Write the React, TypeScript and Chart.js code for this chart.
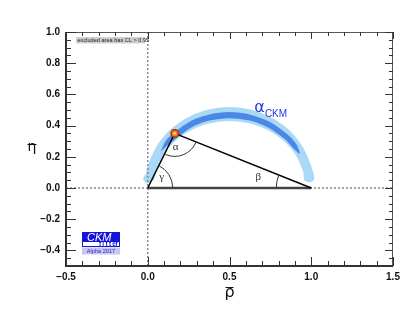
import React, { useEffect, useRef } from 'react';
import { Chart, registerables } from 'chart.js';
Chart.register(...registerables);

// Axis ranges and ticks
const xMin = -0.5, xMax = 1.5, yMin = -0.5, yMax = 1.0;
const xTickValues = [-0.5, 0, 0.5, 1.0, 1.5];
const yTickValues = [-0.4, -0.2, 0, 0.2, 0.4, 0.6, 0.8, 1.0];
const xMinorStep = 0.1;
const yMinorStep = 0.05;

// Unitarity triangle vertices (rho-bar, eta-bar): origin, apex, (1,0)
const triangleRho = [0, 0.165, 1];
const triangleEta = [0, 0.35, 0];

// alpha constraint, 95% CL band: outer edge (left -> right)
const lightOuterRho = [-0.017, -0.002, 0.050, 0.132, 0.240, 0.365, 0.500, 0.635, 0.760, 0.868, 0.950, 1.002, 1.017];
const lightOuterEta = [0.054, 0.135, 0.260, 0.368, 0.450, 0.502, 0.520, 0.502, 0.450, 0.368, 0.260, 0.135, 0.054];
// inner edge (right -> left)
const lightInnerRho = [0.962, 0.949, 0.903, 0.829, 0.733, 0.620, 0.500, 0.380, 0.268, 0.171, 0.097, 0.051, 0.038];
const lightInnerEta = [0.045, 0.111, 0.215, 0.304, 0.372, 0.415, 0.430, 0.415, 0.372, 0.304, 0.215, 0.111, 0.045];
// rounded band ends
const bandEndRho = [0.0, 0.99];
const bandEndEta = [0.06, 0.065];

// alpha constraint, 68% CL band: outer edge (left -> right), inner edge (right -> left)
const darkOuterRho = [0.078, 0.117, 0.250, 0.371, 0.500, 0.629, 0.750, 0.854, 0.910, 0.930];
const darkOuterEta = [0.234, 0.313, 0.422, 0.470, 0.487, 0.470, 0.422, 0.344, 0.279, 0.219];
const darkInnerRho = [0.889, 0.836, 0.738, 0.623, 0.500, 0.377, 0.263, 0.136];
const darkInnerEta = [0.256, 0.316, 0.387, 0.432, 0.447, 0.432, 0.387, 0.287];

// annotation anchors (data coordinates)
const alphaLabelPos = { x: 0.652, y: 0.485 };
const logoPos = { x: -0.404, y: -0.282 };

const SANS = '"Liberation Sans", Arial, Helvetica, sans-serif';

const pts = (xs: number[], ys: number[]) => xs.map((x, i) => ({ x, y: ys[i] }));

const fmt = (v: number) => (v < 0 ? '\u2212' : '') + Math.abs(v).toFixed(1);

const overlay = {
  id: 'ckmOverlay',
  afterDraw(chart: any) {
    const ctx: CanvasRenderingContext2D = chart.ctx;
    const xs = chart.scales.x;
    const ys = chart.scales.y;
    const { left, right, top, bottom } = chart.chartArea;
    const px = (v: number) => xs.getPixelForValue(v);
    const py = (v: number) => ys.getPixelForValue(v);
    ctx.save();

    // --- angle arcs ---
    const O = { x: px(triangleRho[0]), y: py(triangleEta[0]) };
    const A = { x: px(triangleRho[1]), y: py(triangleEta[1]) };
    const B = { x: px(triangleRho[2]), y: py(triangleEta[2]) };
    const ang = (p: any, q: any) => Math.atan2(q.y - p.y, q.x - p.x);
    ctx.strokeStyle = '#333';
    ctx.lineWidth = 1;
    ctx.beginPath();
    ctx.arc(O.x, O.y, 25, ang(O, A), ang(O, B));
    ctx.stroke();
    ctx.beginPath();
    ctx.arc(A.x, A.y, 23, ang(A, B), ang(A, O));
    ctx.stroke();
    ctx.beginPath();
    ctx.arc(B.x, B.y, 35, -Math.PI, ang(B, A));
    ctx.stroke();

    ctx.fillStyle = '#333';
    ctx.font = '11px "Liberation Serif", "DejaVu Serif", serif';
    ctx.textAlign = 'center';
    ctx.textBaseline = 'middle';
    ctx.fillText('\u03b3', O.x + 14, O.y - 11);
    ctx.fillText('\u03b1', A.x + 1, A.y + 14);
    ctx.fillText('\u03b2', B.x - 53, B.y - 11);

    // --- alpha_CKM label ---
    ctx.fillStyle = '#2236e0';
    ctx.textAlign = 'left';
    ctx.textBaseline = 'alphabetic';
    const ax = px(alphaLabelPos.x), ay = py(alphaLabelPos.y);
    ctx.font = '16px "DejaVu Sans", sans-serif';
    ctx.fillText('\u03b1', ax, ay);
    const aw = ctx.measureText('\u03b1').width;
    ctx.font = '10px ' + SANS;
    ctx.fillText('CKM', ax + aw, ay + 5);

    // --- frame and inward ticks ---
    ctx.strokeStyle = '#555';
    ctx.lineWidth = 1;
    ctx.beginPath();
    ctx.moveTo(left, top + 0.5); ctx.lineTo(right, top + 0.5);
    ctx.moveTo(right - 0.5, top); ctx.lineTo(right - 0.5, bottom);
    ctx.stroke();
    ctx.strokeStyle = '#333';
    ctx.lineWidth = 2;
    ctx.beginPath();
    ctx.moveTo(left, top); ctx.lineTo(left, bottom); ctx.lineTo(right, bottom);
    ctx.stroke();

    const isMajorX = (v: number) => xTickValues.some((t) => Math.abs(t - v) < 1e-6);
    const isMajorY = (v: number) => yTickValues.some((t) => Math.abs(t - v) < 1e-6);
    ctx.lineWidth = 1;
    ctx.beginPath();
    for (let i = 0; ; i++) {
      const v = xMin + i * xMinorStep;
      if (v > xMax + 1e-6) break;
      const x = Math.round(px(v)) + 0.5;
      const maj = isMajorX(Math.round(v * 100) / 100);
      ctx.moveTo(x, bottom); ctx.lineTo(x, bottom - (maj ? 9 : 5));
      ctx.moveTo(x, top); ctx.lineTo(x, top + (maj ? 7 : 4));
    }
    for (let i = 0; ; i++) {
      const v = yMin + i * yMinorStep;
      if (v > yMax + 1e-6) break;
      const y = Math.round(py(v)) + 0.5;
      const maj = isMajorY(Math.round(v * 100) / 100);
      ctx.moveTo(left, y); ctx.lineTo(left + (maj ? 10 : 5), y);
      ctx.moveTo(right, y); ctx.lineTo(right - (maj ? 8 : 4), y);
    }
    ctx.stroke();

    // --- "excluded area" box ---
    ctx.fillStyle = '#cfcfcf';
    ctx.fillRect(left + 10, top + 5, 69, 6.5);
    ctx.fillStyle = '#222';
    ctx.font = '5.6px ' + SANS;
    ctx.textBaseline = 'alphabetic';
    ctx.fillText('excluded area has CL > 0.95', left + 11.5, top + 10.3);

    // --- CKMfitter logo ---
    const lx = Math.round(px(logoPos.x)), ly = Math.round(py(logoPos.y));
    ctx.fillStyle = '#1414dc';
    ctx.fillRect(lx, ly, 38, 9);
    ctx.fillStyle = '#ffffff';
    ctx.font = 'italic 11px ' + SANS;
    ctx.fillText('CKM', lx + 5, ly + 8.5);
    ctx.fillStyle = '#ffffff';
    ctx.fillRect(lx, ly + 9, 38, 6);
    ctx.strokeStyle = '#1414dc';
    ctx.lineWidth = 1;
    ctx.strokeRect(lx + 0.5, ly + 9.5, 37, 5);
    ctx.fillStyle = '#1414dc';
    ctx.font = 'bold 6.5px ' + SANS;
    const fit = ['f', 'i', 't', 't', 'e', 'r'];
    fit.forEach((c, i) => ctx.fillText(c, lx + 17 + i * 3.3, ly + 14.3));
    ctx.fillStyle = '#c6c6f2';
    ctx.fillRect(lx, ly + 15.5, 38, 7);
    ctx.fillStyle = '#2a2ac8';
    ctx.font = '5.6px ' + SANS;
    ctx.textAlign = 'center';
    ctx.fillText('Alpha 2017', lx + 19, ly + 21);

    // --- axis titles (with overline) ---
    ctx.fillStyle = '#111';
    ctx.strokeStyle = '#111';
    ctx.textAlign = 'center';
    ctx.font = '16px "DejaVu Sans", sans-serif';
    const tx = (left + right) / 2;
    ctx.fillText('\u03c1', tx, 297);
    ctx.lineWidth = 1;
    ctx.beginPath();
    ctx.moveTo(tx - 4, 287.5); ctx.lineTo(tx + 4, 287.5);
    ctx.stroke();
    ctx.font = '14px "DejaVu Sans", sans-serif';
    ctx.fillText('\u03b7', 32, 151);
    ctx.beginPath();
    ctx.moveTo(27.5, 144.5); ctx.lineTo(36.5, 144.5);
    ctx.stroke();

    ctx.restore();
  },
};

export default function App() {
  const ref = useRef<HTMLCanvasElement>(null);
  useEffect(() => {
    document.body.style.margin = '0';
    const canvas = ref.current!;
    const lightBand = [...pts(lightOuterRho, lightOuterEta), ...pts(lightInnerRho, lightInnerEta)];
    const darkBand = [...pts(darkOuterRho, darkOuterEta), ...pts(darkInnerRho, darkInnerEta)];
    const tri = pts(triangleRho, triangleEta);
    const lightBlue = '#aad9f6';
    const darkBlue = '#4a88e8';
    const chart = new Chart(canvas, {
      type: 'scatter',
      data: {
        datasets: [
          { data: lightBand, showLine: true, fill: 'shape', backgroundColor: lightBlue, borderColor: lightBlue, borderWidth: 0, pointRadius: 0, tension: 0.3, order: 10 } as any,
          { data: pts(bandEndRho, bandEndEta), showLine: false, backgroundColor: lightBlue, borderWidth: 0, pointRadius: 4.5, order: 9 },
          { data: darkBand, showLine: true, fill: 'shape', backgroundColor: darkBlue, borderColor: darkBlue, borderWidth: 0, pointRadius: 0, tension: 0.3, order: 8 } as any,
          { data: [{ x: xMin, y: 0 }, { x: xMax, y: 0 }], showLine: true, borderColor: '#8a8a8a', borderDash: [2, 2], borderWidth: 1.5, pointRadius: 0, order: 7 },
          { data: [{ x: 0, y: yMin }, { x: 0, y: yMax }], showLine: true, borderColor: '#8a8a8a', borderDash: [2, 2], borderWidth: 1.5, pointRadius: 0, order: 7 },
          { data: [tri[0], tri[2]], showLine: true, borderColor: '#444', borderWidth: 2.5, pointRadius: 0, order: 5 },
          { data: tri, showLine: true, borderColor: '#000', borderWidth: 1.5, pointRadius: 0, order: 4 },
          { data: [tri[1]], showLine: false, backgroundColor: '#f07818', borderColor: '#a82000', borderWidth: 1.2, pointRadius: 3.8, order: 2 },
          { data: [tri[1]], showLine: false, backgroundColor: '#ffe040', borderWidth: 0, pointRadius: 1.4, order: 1 },
        ],
      },
      options: {
        responsive: false,
        animation: false,
        events: [],
        layout: { padding: { top: 32, right: 21, left: 0, bottom: 0 } },
        plugins: { legend: { display: false }, tooltip: { enabled: false } },
        scales: {
          x: {
            type: 'linear', min: xMin, max: xMax,
            grid: { display: false, drawTicks: false },
            border: { display: false },
            afterBuildTicks: (s: any) => { s.ticks = xTickValues.map((v) => ({ value: v })); },
            afterFit: (s: any) => { s.height = 44; },
            ticks: { autoSkip: false, maxRotation: 0, padding: 5, color: '#111', font: { family: SANS, size: 10, weight: 'bold' }, callback: (v: any) => fmt(Number(v)) },
          },
          y: {
            type: 'linear', min: yMin, max: yMax,
            grid: { display: false, drawTicks: false },
            border: { display: false },
            afterBuildTicks: (s: any) => { s.ticks = yTickValues.map((v) => ({ value: v })); },
            afterFit: (s: any) => { s.width = 66; },
            ticks: { autoSkip: false, padding: 6, color: '#111', font: { family: SANS, size: 10, weight: 'bold' }, callback: (v: any) => fmt(Number(v)) },
          },
        },
      } as any,
      plugins: [overlay],
    });
    return () => chart.destroy();
  }, []);
  return (
    <div style={{ width: 414, height: 310, background: '#fff' }}>
      <canvas ref={ref} width={414} height={310} style={{ display: 'block' }} />
    </div>
  );
}
